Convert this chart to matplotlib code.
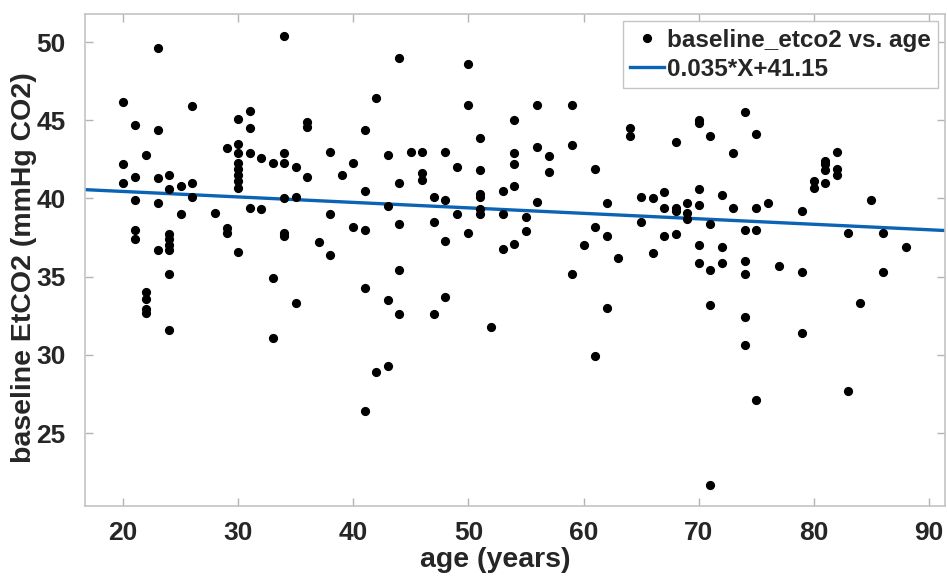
import numpy as np
import matplotlib.pyplot as plt

plt.rcParams['font.family'] = ['Liberation Sans', 'DejaVu Sans']
plt.rcParams['font.weight'] = 'bold'

# age (years) and baseline EtCO2 (mmHg CO2)
age = [20, 20, 20,
       21, 21, 21, 21, 21,
       22, 22, 22, 22, 22,
       23, 23, 23, 23, 23,
       24, 24, 24, 24, 24, 24, 24, 24,
       25, 25,
       26, 26, 26,
       28,
       29, 29, 29,
       30, 30, 30, 30, 30, 30, 30, 30, 30,
       31, 31, 31, 31,
       32, 32,
       33, 33, 33,
       34, 34, 34, 34, 34, 34,
       35, 35, 35,
       36, 36, 36,
       37,
       38, 38, 38,
       39,
       40, 40,
       41, 41, 41, 41, 41,
       42, 42,
       43, 43, 43, 43,
       44, 44, 44, 44, 44,
       45,
       46, 46, 46,
       47, 47, 47,
       48, 48, 48, 48,
       49, 49,
       50, 50, 50,
       51, 51, 51, 51, 51, 51,
       52,
       53, 53, 53,
       54, 54, 54, 54, 54,
       55, 55,
       56, 56, 56,
       57, 57,
       59, 59, 59,
       60,
       61, 61, 61,
       62, 62, 62,
       63,
       64, 64,
       65, 65,
       66, 66,
       67, 67, 67,
       68, 68, 68, 68,
       69, 69, 69,
       70, 70, 70, 70, 70, 70,
       71, 71, 71, 71, 71,
       72, 72, 72,
       73, 73,
       74, 74, 74, 74, 74, 74,
       75, 75, 75, 75,
       76,
       77,
       79, 79, 79,
       80, 80,
       81, 81, 81, 81,
       82, 82, 82,
       83, 83,
       84,
       85,
       86, 86,
       88]
etco2 = [46.2, 42.2, 41.0,
         44.7, 41.4, 39.9, 38.0, 37.4,
         42.8, 34.0, 33.6, 32.9, 32.7,
         49.6, 44.4, 41.3, 39.7, 36.7,
         41.5, 40.6, 37.7, 37.4, 37.0, 36.7, 35.2, 31.6,
         40.8, 39.0,
         45.9, 41.0, 40.1,
         39.1,
         43.2, 38.1, 37.8,
         45.1, 43.5, 42.9, 42.3, 41.9, 41.5, 41.1, 40.7, 36.6,
         45.6, 44.5, 42.9, 39.4,
         42.6, 39.3,
         42.3, 34.9, 31.1,
         50.4, 42.9, 42.3, 40.0, 37.8, 37.6,
         42.0, 40.1, 33.3,
         44.9, 44.6, 41.4,
         37.2,
         43.0, 39.0, 36.4,
         41.5,
         42.3, 38.2,
         44.4, 40.5, 38.0, 34.3, 26.4,
         46.4, 28.9,
         42.8, 39.5, 33.5, 29.3,
         49.0, 41.0, 38.4, 35.4, 32.6,
         43.0,
         43.0, 41.6, 41.2,
         40.1, 38.5, 32.6,
         43.0, 39.9, 37.3, 33.7,
         42.0, 39.0,
         48.6, 46.0, 37.8,
         43.9, 41.8, 40.3, 40.1, 39.3, 39.0,
         31.8,
         40.5, 39.0, 36.8,
         45.0, 42.9, 42.2, 40.8, 37.1,
         38.8, 37.9,
         46.0, 43.3, 39.8,
         42.7, 41.7,
         46.0, 43.4, 35.2,
         37.0,
         41.9, 38.2, 29.9,
         39.7, 37.6, 33.0,
         36.2,
         44.5, 44.0,
         40.1, 38.5,
         40.0, 36.5,
         40.4, 39.4, 37.6,
         43.6, 39.4, 39.2, 37.7,
         39.7, 39.1, 38.7,
         45.0, 44.8, 40.6, 39.6, 37.0, 35.9,
         44.0, 38.4, 35.4, 33.2, 21.7,
         40.2, 36.9, 35.9,
         42.9, 39.4,
         45.5, 38.0, 36.0, 35.2, 32.4, 30.6,
         44.1, 39.4, 38.0, 27.1,
         39.7,
         35.7,
         39.2, 35.3, 31.4,
         41.1, 40.7,
         42.4, 42.2, 41.8, 41.0,
         43.0, 41.9, 41.5,
         37.8, 27.7,
         33.3,
         39.9,
         37.8, 35.3,
         36.9]

# linear fit as given in the legend (line falls with age)
slope = -0.035
intercept = 41.15
fit_label = '0.035*X+41.15'

xlim = (16.7, 91.4)
ylim = (20.35, 51.8)
xticks = [20, 30, 40, 50, 60, 70, 80, 90]
yticks = [25, 30, 35, 40, 45, 50]

fig = plt.figure(figsize=(9.48, 5.8), dpi=100)
ax = fig.add_axes([85 / 948, 74.3 / 580, 860 / 948, 491.7 / 580])

ax.plot(age, etco2, 'o', color='black', markersize=5.6,
        label='baseline_etco2 vs. age', zorder=3)
xx = np.array(xlim)
ax.plot(xx, slope * xx + intercept, color='#0a63b5', linewidth=2.4,
        label=fit_label, zorder=2)

ax.set_xlim(xlim)
ax.set_ylim(ylim)
ax.set_xticks(xticks)
ax.set_yticks(yticks)

for s in ax.spines.values():
    s.set_color('#c4c4c4')
    s.set_linewidth(1.2)
ax.tick_params(direction='in', length=6, width=1, color='#b4b4b4',
               top=True, right=True, labelsize=19, labelcolor='#262626')
ax.tick_params(axis='x', pad=11)
ax.tick_params(axis='y', pad=14)

ax.set_xlabel('age (years)', fontsize=20.5, fontweight='bold',
              color='#262626')
ax.set_ylabel('baseline EtCO2 (mmHg CO2)', fontsize=20.5, fontweight='bold',
              color='#262626')
ax.xaxis.set_label_coords(0.477, -0.083)
ax.yaxis.set_label_coords(-0.056, 0.485)

leg = ax.legend(loc='upper right', fontsize=17.5, numpoints=1,
                handlelength=1.4, handletextpad=0.1, labelspacing=0.25,
                borderpad=0.3, borderaxespad=0.3, fancybox=False,
                framealpha=1, edgecolor='#c4c4c4')
leg.get_frame().set_linewidth(1.0)
for t in leg.get_texts():
    t.set_color('#262626')

fig.savefig('out.png', dpi=100)
